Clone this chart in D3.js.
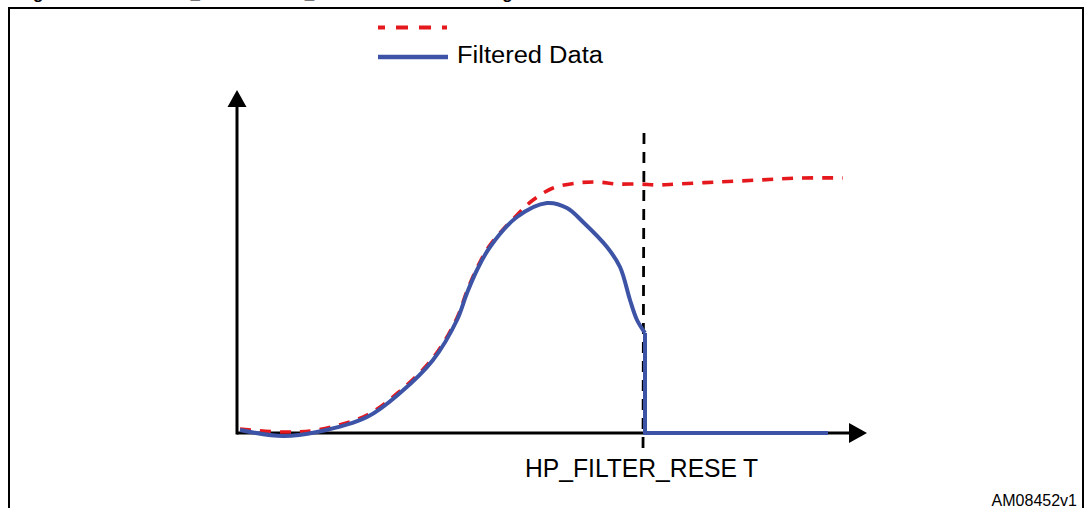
<!DOCTYPE html>
<html>
<head>
<meta charset="utf-8">
<script src="https://cdn.jsdelivr.net/npm/d3@7"></script>
<style>
  html, body { margin: 0; padding: 0; background: #fff; }
  svg { display: block; }
  text { font-family: "Liberation Sans", Arial, Helvetica, sans-serif; fill: #000; }
</style>
</head>
<body>
<svg id="chart" width="1086" height="508"></svg>
<script>
// ---- data (x = time units, y = signal units) ----
const seriesNames = ["", "Filtered Data"];
const resetLabel = "HP_FILTER_RESET";
const figureId = "AM08452v1";
const titleText = "Figure 10. HIGHPASS_REFERENCE_MODE reset filter setting";

// unfiltered (red dashed) signal
const rawX = [3, 46, 80, 130, 163, 196, 220, 230, 240, 253, 280, 296, 316, 340, 360, 380, 403, 420, 440, 480, 523, 563, 606];
const rawY = [4, 1, 3, 18, 42, 75, 115, 142, 165, 188, 218, 233, 245, 250, 251, 249, 249, 248, 249, 251, 253, 255, 255];

// filtered (blue) signal before reset
const filtX = [3, 46, 80, 130, 163, 196, 220, 230, 240, 253, 280, 310, 330, 346, 370, 383, 393, 400, 408];
const filtY = [3, -3, 1, 16, 40, 73, 113, 140, 163, 186, 216, 230, 225, 211, 186, 166, 133, 113, 100];

// filtered signal after reset
const resetX = [408, 408, 591];
const resetY = [100, 0, 0];

// reset instant
const resetTime = 406;

const svg = d3.select("#chart");

// frame and (cropped) title: only its descenders reach into view
svg.append("rect").attr("x", 9).attr("y", 8).attr("width", 1074).attr("height", 600)
  .attr("fill", "none").attr("stroke", "#000").attr("stroke-width", 2);
svg.append("text").attr("x", 18).attr("y", -0.6)
  .attr("font-size", 17).attr("font-weight", "bold").text(titleText);

const x = d3.scaleLinear().domain([0, 630]).range([237, 867]);
const y = d3.scaleLinear().domain([0, 343]).range([433, 90]);

// axes (no ticks, just the arrowed lines)
const xAxis = d3.axisBottom(x).tickValues([]).tickSizeOuter(0);
const yAxis = d3.axisLeft(y).tickValues([]).tickSizeOuter(0);
const gx = svg.append("g").attr("transform", `translate(0,${y(0)})`).call(xAxis);
const gy = svg.append("g").attr("transform", `translate(${x(0)},0)`).call(yAxis);
[gx, gy].forEach(g => g.select(".domain").attr("stroke", "#000").attr("stroke-width", 3));
gx.select(".domain").attr("d", `M${x(0)},0H${x(630) - 16}`);
gy.select(".domain").attr("d", `M0,${y(0) + 1.5}V${y(343) + 16}`);
// arrow heads
svg.append("path").attr("fill", "#000")
  .attr("d", `M${x(630)},${y(0)}L${x(630) - 18},${y(0) - 10}L${x(630) - 18},${y(0) + 10}Z`);
svg.append("path").attr("fill", "#000")
  .attr("d", `M${x(0)},${y(343)}L${x(0) - 9.5},${y(343) + 17}L${x(0) + 9.5},${y(343) + 17}Z`);

// reset marker: vertical dashed line
svg.append("line")
  .attr("x1", x(resetTime) + 1).attr("x2", x(resetTime))
  .attr("y1", 133).attr("y2", 455)
  .attr("stroke", "#000").attr("stroke-width", 2.8).attr("stroke-dasharray", "11,8");

const red = "#e5191d", blue = "#3d54a6";

const line = d3.line().x(d => x(d[0])).y(d => y(d[1]));

// red dashed raw signal
svg.append("path")
  .datum(d3.zip(rawX, rawY))
  .attr("fill", "none").attr("stroke", red).attr("stroke-width", 3.6)
  .attr("stroke-dasharray", "11,9")
  .attr("d", line.curve(d3.curveCatmullRom.alpha(0.5)));

// blue filtered signal
svg.append("path")
  .datum(d3.zip(filtX, filtY))
  .attr("fill", "none").attr("stroke", blue).attr("stroke-width", 4)
  .attr("stroke-linecap", "butt")
  .attr("d", line.curve(d3.curveCatmullRom.alpha(0.5)));
svg.append("path")
  .datum(d3.zip(resetX, resetY))
  .attr("fill", "none").attr("stroke", blue).attr("stroke-width", 4)
  .attr("d", line.curve(d3.curveLinear));

// legend
const leg = svg.append("g");
leg.append("line").attr("x1", 378).attr("x2", 447).attr("y1", 27.5).attr("y2", 27.5)
  .attr("stroke", red).attr("stroke-width", 4).attr("stroke-dasharray", "12,11").attr("stroke-dashoffset", 5);
leg.append("text").attr("x", 457).attr("y", 35).attr("font-size", 23).text(seriesNames[0]);
leg.append("line").attr("x1", 378).attr("x2", 448).attr("y1", 57).attr("y2", 57)
  .attr("stroke", blue).attr("stroke-width", 4.5);
leg.append("text").attr("x", 457).attr("y", 63.3).attr("font-size", 23)
  .attr("textLength", 146).attr("lengthAdjust", "spacingAndGlyphs").text(seriesNames[1]);

// reset label
const rl = svg.append("text").attr("x", 525).attr("y", 476.7).attr("font-size", 25)
  .attr("textLength", 233).attr("lengthAdjust", "spacingAndGlyphs");
rl.append("tspan").text(resetLabel.slice(0, -1));
rl.append("tspan").attr("dx", 6).text(resetLabel.slice(-1));

// figure id
svg.append("text").attr("x", 1077).attr("y", 506).attr("font-size", 16)
  .attr("text-anchor", "end").text(figureId);
</script>
</body>
</html>
